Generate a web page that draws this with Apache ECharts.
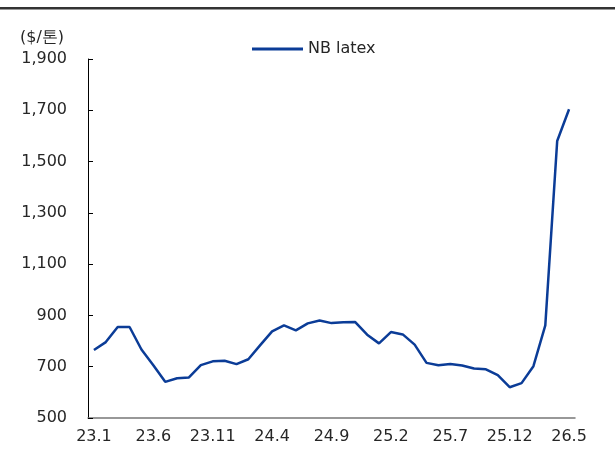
<!DOCTYPE html>
<html>
<head>
<meta charset="utf-8">
<script src="https://cdn.jsdelivr.net/npm/echarts@6/dist/echarts.min.js"></script>
<style>
  html, body { margin: 0; padding: 0; background: #fff; }
  #chart { width: 615px; height: 459px; }
</style>
</head>
<body>
<div id="chart"></div>
<script>
// Monthly NB latex price, $/ton
const months = [
  '23.1','23.2','23.3','23.4','23.5','23.6','23.7','23.8','23.9','23.10','23.11','23.12',
  '24.1','24.2','24.3','24.4','24.5','24.6','24.7','24.8','24.9','24.10','24.11','24.12',
  '25.1','25.2','25.3','25.4','25.5','25.6','25.7','25.8','25.9','25.10','25.11','25.12',
  '26.1','26.2','26.3','26.4','26.5'
];
const nbLatex = [
  765, 796, 855, 855, 767, 706, 641, 655, 658, 706, 721, 723,
  710, 729, 784, 838, 861, 842, 869, 880, 870, 873, 874, 825,
  791, 835, 826, 786, 715, 706, 711, 705, 693, 690, 667, 620,
  636, 702, 861, 1580, 1704
];
const seriesName = 'NB latex';
const unitLabel = '($/톤)';
const yMin = 500, yMax = 1900, yStep = 200;

const FONT = 'DejaVu Sans';
const TEXT = '#262626';
const LINE = '#0b3c97';

const chart = echarts.init(document.getElementById('chart'), null, { renderer: 'canvas' });
chart.setOption({
  backgroundColor: '#fff',
  animation: false,
  textStyle: { fontFamily: FONT, color: TEXT },
  graphic: [
    {
      type: 'rect',
      shape: { x: 0, y: 7, width: 615, height: 2.5 },
      style: { fill: '#333' }
    },
    {
      type: 'text',
      left: 20,
      top: 30,
      style: { text: unitLabel, font: '16px "' + FONT + '"', fill: TEXT }
    }
  ],
  legend: {
    left: 247,
    top: 36,
    icon: 'rect',
    itemWidth: 51,
    itemHeight: 3,
    itemGap: 10,
    textStyle: { fontFamily: FONT, fontSize: 16, color: TEXT, padding: [0, 0, 0, 0] },
    data: [seriesName]
  },
  grid: { left: 88, right: 40, top: 59, bottom: 41, containLabel: false },
  xAxis: {
    type: 'category',
    data: months,
    boundaryGap: true,
    axisLine: { lineStyle: { color: '#777', width: 1.5 } },
    axisTick: { inside: true, length: 6, interval: 4, lineStyle: { color: '#777', width: 1 } },
    axisLabel: { interval: 4, margin: 11, fontFamily: FONT, fontSize: 16, color: TEXT },
    splitLine: { show: false }
  },
  yAxis: {
    type: 'value',
    min: yMin,
    max: yMax,
    interval: yStep,
    axisLine: { show: true, lineStyle: { color: '#000', width: 1 } },
    axisTick: { show: true, inside: true, length: 5, lineStyle: { color: '#000', width: 1 } },
    axisLabel: {
      margin: 21,
      fontFamily: FONT,
      fontSize: 16,
      color: TEXT,
      formatter: v => v.toLocaleString('en-US')
    },
    splitLine: { show: false }
  },
  series: [
    {
      name: seriesName,
      type: 'line',
      data: nbLatex,
      showSymbol: false,
      symbol: 'none',
      smooth: false,
      color: LINE,
      lineStyle: { color: LINE, width: 2.5 }
    }
  ]
});
</script>
</body>
</html>
